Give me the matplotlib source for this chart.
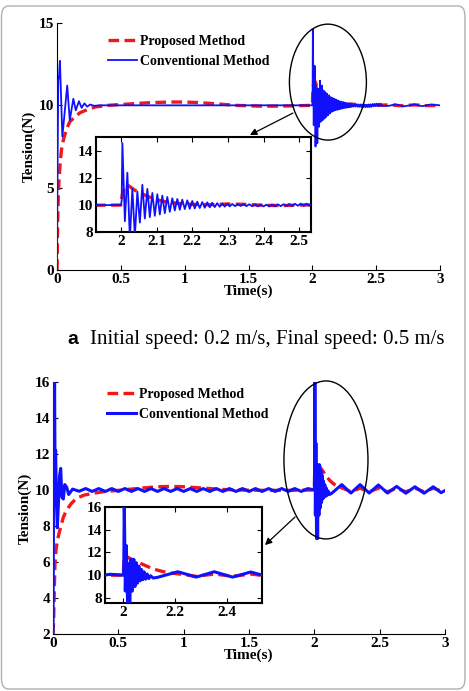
import matplotlib
matplotlib.use('Agg')
from matplotlib import patches
from matplotlib import pyplot as plt

SERIF = 'Liberation Serif'
RED = '#f01818'
BLUE = '#1010ff'

# Panel a: initial speed 0.2 m/s, final speed 0.5 m/s
PROP_A_T = [0, 0.004, 0.01, 0.016, 0.025, 0.035, 0.05, 0.063, 0.08, 0.1,
            0.14, 0.18, 0.24, 0.3, 0.4, 0.5, 0.6, 0.7, 0.8, 0.9, 1.0, 1.1,
            1.2, 1.3, 1.4, 1.5, 1.6, 1.7, 1.8, 1.9, 2.0, 2.004, 2.01, 2.019,
            2.039, 2.067, 2.095, 2.124, 2.16, 2.2, 2.25, 2.3, 2.35, 2.4,
            2.45, 2.5, 2.6, 2.7, 2.8, 2.9, 3.0]
PROP_A_V = [0, 2.5, 4.5, 5.5, 6.5, 7.3, 7.9, 8.25, 8.65, 9.0,
            9.3, 9.55, 9.75, 9.9, 10.0, 10.05, 10.1, 10.15, 10.18, 10.2,
            10.2, 10.17, 10.12, 10.06, 10.0, 9.97, 9.95, 9.95, 9.96, 9.98,
            10.0, 10.8, 11.3, 11.48, 11.1, 10.74, 10.42, 10.25, 10.12, 10.05,
            10.02, 10.08, 10.05, 9.98, 9.96, 10.0, 10.03, 9.97, 10.03, 9.98,
            10.0]

CONV_A_T = [0, 0.004, 0.01, 0.016, 0.023, 0.03, 0.042, 0.08, 0.1, 0.128,
            0.147, 0.172, 0.193, 0.215, 0.236, 0.26, 0.29, 0.33, 0.5, 1.0,
            1.5, 2.0, 2.002, 2.004, 2.011, 2.018, 2.025, 2.032, 2.039, 2.046,
            2.053, 2.06, 2.067, 2.074, 2.081, 2.088, 2.095, 2.102, 2.109,
            2.116, 2.123, 2.13, 2.137, 2.144, 2.151, 2.158, 2.165, 2.172,
            2.179, 2.186, 2.193, 2.2, 2.207, 2.214, 2.221, 2.228, 2.235,
            2.242, 2.249, 2.256, 2.263, 2.27, 2.277, 2.284, 2.291, 2.298,
            2.305, 2.312, 2.32, 2.328, 2.336, 2.344, 2.352, 2.36, 2.368,
            2.376, 2.384, 2.392, 2.4, 2.408, 2.416, 2.424, 2.432, 2.44,
            2.448, 2.456, 2.464, 2.472, 2.48, 2.488, 2.496, 2.504, 2.512,
            2.52, 2.528, 2.536, 2.544, 2.6, 2.65, 2.72, 2.8, 2.86, 2.93, 3.0]
CONV_A_V = [0, 6.0, 11.5, 11.8, 12.7, 11.0, 8.1, 11.2, 9.1, 10.4,
            9.7, 10.25, 9.85, 10.12, 9.92, 10.05, 9.97, 10.0, 10.0, 10.0,
            10.0, 10.0, 10.3, 14.6, 8.8, 12.4, 7.5, 11.2, 7.7, 11.0,
            8.7, 11.5, 9.0, 11.2, 9.1, 10.9, 9.2, 10.8, 9.3,
            10.7, 9.4, 10.6, 9.5, 10.5, 9.6, 10.45, 9.65, 10.4,
            9.7, 10.35, 9.72, 10.3, 9.75, 10.25, 9.78, 10.22, 9.8,
            10.2, 9.83, 10.17, 9.85, 10.14, 9.87, 10.12, 9.88, 10.1,
            9.9, 10.08, 9.92, 10.06, 9.93, 10.07, 9.92, 10.06, 9.91,
            10.05, 9.9, 10.04, 9.9, 10.03, 9.9, 10.04, 9.91, 10.05,
            9.92, 10.06, 9.93, 10.08, 9.94, 10.09, 9.95, 10.1, 9.95,
            10.1, 9.96, 10.1, 9.97, 9.97, 10.06, 9.94, 10.05, 9.95, 10.05, 10.0]

# Panel b
PROP_B_T = [0, 0.005, 0.01, 0.015, 0.025, 0.04, 0.06, 0.08, 0.105, 0.14,
            0.18, 0.24, 0.31, 0.4, 0.5, 0.6, 0.7, 0.8, 0.9, 1.0, 1.1, 1.2,
            1.3, 1.4, 1.6, 1.8, 2.0, 2.003, 2.008, 2.02, 2.04, 2.065, 2.09,
            2.11, 2.13, 2.155, 2.18, 2.21, 2.25, 2.28, 2.35, 2.42, 2.49,
            2.56, 2.63, 2.7, 2.77, 2.84, 2.91, 2.98, 3.0]
PROP_B_V = [2.0, 2.8, 4.5, 5.9, 6.8, 7.4, 8.0, 8.5, 8.9, 9.25,
            9.54, 9.72, 9.82, 9.92, 9.98, 10.05, 10.12, 10.18, 10.2, 10.18,
            10.13, 10.08, 10.03, 10.0, 9.98, 9.98, 10.0, 11.2, 11.67, 11.55,
            11.3, 11.05, 10.8, 10.6, 10.45, 10.3, 10.2, 10.12, 10.0, 9.9,
            10.1, 9.9, 10.1, 9.9, 10.1, 9.9, 10.1, 9.9, 10.1, 9.92, 9.95]

CONV_B_T = [0, 0.004, 0.008, 0.012, 0.016, 0.02, 0.026, 0.033, 0.04, 0.05,
            0.059, 0.068, 0.079, 0.09, 0.105, 0.12, 0.15, 0.2, 0.25, 0.3,
            0.35, 0.4, 0.45, 0.5, 0.55, 0.6, 0.65, 0.7, 0.75, 0.8, 0.85,
            0.9, 0.95, 1.0, 1.05, 1.1, 1.15, 1.2, 1.25, 1.3, 1.35, 1.4,
            1.45, 1.5, 1.55, 1.6, 1.65, 1.7, 1.75, 1.8, 1.85, 1.9, 1.95,
            2.0, 2.002, 2.004, 2.008, 2.012, 2.017, 2.021, 2.025, 2.03,
            2.035, 2.04, 2.045, 2.05, 2.055, 2.06, 2.065, 2.07, 2.075, 2.08,
            2.086, 2.092, 2.098, 2.105, 2.115, 2.13, 2.21, 2.28, 2.35, 2.42,
            2.49, 2.56, 2.63, 2.7, 2.77, 2.84, 2.91, 2.97, 3.0]
CONV_B_V = [2.0, 9.0, 11.3, 16.0, 10.5, 12.2, 9.5, 7.9, 9.0, 10.8,
            11.2, 9.6, 9.5, 10.3, 10.15, 9.75, 10.05, 9.93, 10.08, 9.92,
            10.08, 9.92, 10.08, 9.92, 10.08, 9.92, 10.08, 9.92, 10.08, 9.92, 10.08,
            9.92, 10.08, 9.92, 10.08, 9.92, 10.08, 9.92, 10.08, 9.92, 10.08, 9.92,
            10.08, 9.92, 10.08, 9.92, 10.08, 9.92, 10.08, 9.92, 10.08, 9.92, 10.08,
            10.0, 10.5, 16.5, 8.6, 12.6, 7.3, 11.0, 7.3, 11.4,
            8.6, 11.4, 9.0, 11.1, 9.3, 10.8, 9.5, 10.5, 9.6, 10.3,
            9.65, 10.1, 9.7, 9.95, 9.75, 9.8, 10.3, 9.83, 10.3, 9.83,
            10.28, 9.83, 10.2, 9.82, 10.18, 9.82, 10.18, 9.85, 9.97]

A_YTICKS = [0, 5, 10, 15]
B_YTICKS = [2, 4, 6, 8, 10, 12, 14, 16]
X_TICKS = [0, 0.5, 1, 1.5, 2, 2.5, 3]
X_TICKLABELS = ['0', '0.5', '1', '1.5', '2', '2.5', '3']
A_INSET_XTICKS = [2, 2.1, 2.2, 2.3, 2.4, 2.5]
A_INSET_YTICKS = [8, 10, 12, 14]
B_INSET_XTICKS = [2, 2.2, 2.4]
B_INSET_YTICKS = [8, 10, 12, 14, 16]

FS = 11
TICK_FONT = dict(family=SERIF, weight='bold', size=FS)


def style_ticks(ax, box):
    ax.tick_params(direction='in', length=3.5, width=0.8, pad=2,
                   top=box, right=box)
    for label in ax.get_xticklabels() + ax.get_yticklabels():
        label.set_fontproperties(
            matplotlib.font_manager.FontProperties(**TICK_FONT))


def draw_curves(ax, conv_t, conv_v, prop_t, prop_v, conv_lw):
    ax.plot(prop_t, prop_v, color=RED, lw=2.4, ls=(0, (3.2, 1.6)),
            label='Proposed Method', zorder=2)
    ax.plot(conv_t, conv_v, color=BLUE, lw=conv_lw, solid_joinstyle='round',
            label='Conventional Method', zorder=3)


def panel(fig, rect, inset_rect, conv_t, conv_v, prop_t, prop_v, yticks,
          ylim, inset_xticks, inset_yticks, inset_ylim, conv_lw, legend_xy,
          ellipse, arrow):
    ax = fig.add_axes(rect)
    draw_curves(ax, conv_t, conv_v, prop_t, prop_v, conv_lw)
    ax.set_xlim(0, 3)
    ax.set_ylim(*ylim)
    ax.set_xticks(X_TICKS)
    ax.set_xticklabels(X_TICKLABELS)
    ax.set_yticks(yticks)
    ax.spines['top'].set_visible(False)
    ax.spines['right'].set_visible(False)
    style_ticks(ax, False)
    ax.set_xlabel('Time(s)', fontfamily=SERIF, fontweight='bold',
                  fontsize=FS, labelpad=-1)
    ax.set_ylabel('Tension(N)', fontfamily=SERIF, fontweight='bold',
                  fontsize=FS, labelpad=2)
    ax.legend(loc='upper left', bbox_to_anchor=legend_xy, frameon=False,
              borderpad=0, borderaxespad=0, handlelength=2.1,
              handletextpad=0.2, labelspacing=0.45,
              prop=dict(family=SERIF, weight='bold', size=10))
    (ex, ey, ew, eh) = ellipse
    ax.add_patch(patches.Ellipse((ex, ey), ew, eh, fill=False,
                                 edgecolor='black', lw=1.0, clip_on=False,
                                 zorder=5))
    (x0, y0, x1, y1) = arrow
    ax.annotate('', xy=(x1, y1), xytext=(x0, y0),
                arrowprops=dict(arrowstyle='-|>', color='black', lw=0.9,
                                mutation_scale=10, shrinkA=0, shrinkB=0),
                annotation_clip=False, zorder=6)

    ins = fig.add_axes(inset_rect)
    ins.set_facecolor('white')
    draw_curves(ins, conv_t, conv_v, prop_t, prop_v, conv_lw)
    ins.set_xlim(1.93, 2.533)
    ins.set_ylim(*inset_ylim)
    ins.set_xticks(inset_xticks)
    ins.set_xticklabels([('%g' % v) for v in inset_xticks])
    ins.set_yticks(inset_yticks)
    for s in ins.spines.values():
        s.set_linewidth(1.5)
    style_ticks(ins, True)
    return ax, ins


def main():
    fig = plt.figure(figsize=(4.69, 6.91), dpi=100)
    W, H = 469.0, 691.0

    def frect(x0, y0, x1, y1):
        return [x0 / W, 1 - y1 / H, (x1 - x0) / W, (y1 - y0) / H]

    panel(fig, frect(57, 23, 440, 270), frect(96, 137, 311, 232),
          CONV_A_T, CONV_A_V, PROP_A_T, PROP_A_V, A_YTICKS, (0, 15),
          A_INSET_XTICKS, A_INSET_YTICKS, (8, 15.05), 1.3, (0.133, 0.95),
          (2.122, 11.41, 0.603, 7.04), (1.848, 9.53, 1.511, 8.2))
    panel(fig, frect(53, 382, 445, 634), frect(105, 507, 262, 603),
          CONV_B_T, CONV_B_V, PROP_B_T, PROP_B_V, B_YTICKS, (2, 16),
          B_INSET_XTICKS, B_INSET_YTICKS, (7.55, 16), 2.2, (0.138, 0.975),
          (2.089, 11.67, 0.643, 8.78), (1.852, 8.5, 1.622, 6.94))

    fig.text(67 / W, 1 - 344 / H, 'a', fontfamily='Liberation Sans',
             fontweight='bold', fontsize=14, va='baseline')
    fig.text(90 / W, 1 - 344 / H,
             'Initial speed: 0.2 m/s, Final speed: 0.5 m/s',
             fontfamily=SERIF, fontsize=15, va='baseline')

    fig.patches.append(patches.FancyBboxPatch(
        (1.5 / W, 2 / H), 463.5 / W, 683 / H,
        boxstyle='round,pad=0,rounding_size=0.015',
        transform=fig.transFigure, fill=False, edgecolor='#b0b0b0', lw=1.0))

    fig.savefig('out.png', dpi=100)


if __name__ == '__main__':
    main()
